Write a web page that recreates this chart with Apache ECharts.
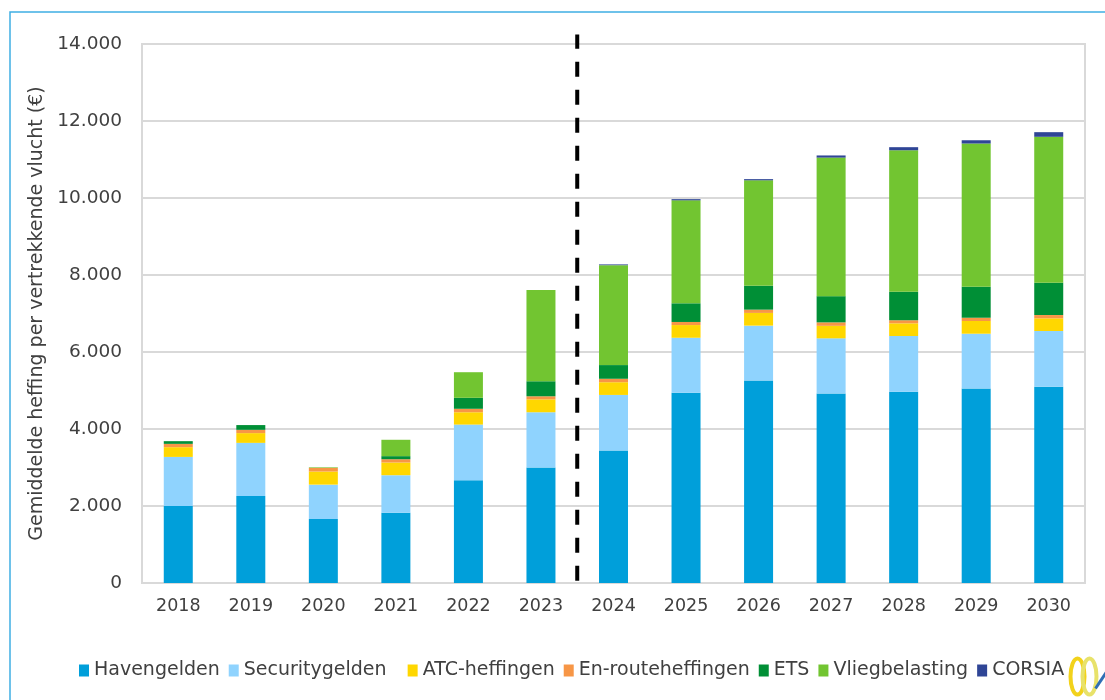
<!DOCTYPE html>
<html>
<head>
<meta charset="utf-8">
<title>Gemiddelde heffing per vertrekkende vlucht</title>
<script src="https://cdn.jsdelivr.net/npm/echarts@6/dist/echarts.min.js"></script>
<style>
  html, body { margin: 0; padding: 0; background: #fff; }
  #chart { width: 1105px; height: 700px; }
</style>
</head>
<body>
<div id="chart"></div>
<script>
const years = ['2018', '2019', '2020', '2021', '2022', '2023', '2024', '2025', '2026', '2027', '2028', '2029', '2030'];

const havengelden     = [2000, 2260, 1660, 1825, 2670, 3000, 3440, 4940, 5260, 4920, 4970, 5050, 5100];
const securitygelden  = [1275, 1380,  895,  975, 1445, 1435, 1445, 1430, 1425, 1435, 1445, 1425, 1445];
const atcHeffingen    = [ 253,  253,  340,  330,  320,  335,  330,  330,  330,  325,  330,  330,  330];
const enRoute         = [  86,   86,   95,   85,   90,   80,   90,   80,   85,   90,   80,   85,   85];
const ets             = [  70,  123,    0,   80,  285,  390,  355,  485,  620,  680,  740,  805,  840];
const vliegbelasting  = [   0,    0,   15,  425,  665, 2370, 2595, 2675, 2740, 3600, 3675, 3720, 3790];
const corsia          = [   0,    0,    0,    0,    0,    0,   20,   30,   30,   55,   80,   85,  120];

// divider between realised years and forecast (x position on 0..13 scale)
const dividerX = 6;

const seriesDefs = [
  { name: 'Havengelden', data: havengelden, color: '#009FDA' },
  { name: 'Securitygelden', data: securitygelden, color: '#8FD3FE' },
  { name: 'ATC-heffingen', data: atcHeffingen, color: '#FFD700' },
  { name: 'En-routeheffingen', data: enRoute, color: '#F79646' },
  { name: 'ETS', data: ets, color: '#008F36' },
  { name: 'Vliegbelasting', data: vliegbelasting, color: '#72C531' },
  { name: 'CORSIA', data: corsia, color: '#2F4596' }
];

const fontFamily = 'DejaVu Sans';
const chart = echarts.init(document.getElementById('chart'));

chart.setOption({
  animation: false,
  textStyle: { fontFamily },
  grid: {
    left: 142, right: 20, top: 44, bottom: 117,
    show: true, borderColor: '#d9d9d9', borderWidth: 2
  },
  legend: {
    bottom: 15,
    left: 74,
    itemWidth: 10,
    itemHeight: 12,
    itemGap: 9,
    icon: 'rect',
    textStyle: { fontSize: 19, color: '#404040', fontFamily },
    // the source has an extra space after "Securitygelden"
    formatter: name => (name === 'Securitygelden' ? name + '  ' : name),
    data: seriesDefs.map(s => s.name)
  },
  xAxis: [
    {
      type: 'category',
      data: years,
      axisTick: { show: false },
      axisLine: { lineStyle: { color: '#d9d9d9', width: 2 } },
      axisLabel: { fontSize: 17.5, color: '#404040', margin: 14 }
    },
    { type: 'value', min: 0, max: 13, show: false }
  ],
  yAxis: [
    {
      type: 'value',
      min: 0,
      max: 14000,
      interval: 2000,
      name: 'Gemiddelde heffing per vertrekkende vlucht (€)',
      nameLocation: 'middle',
      nameGap: 94,
      nameTextStyle: { fontSize: 19, color: '#404040' },
      axisLine: { show: false },
      axisTick: { show: false },
      axisLabel: {
        fontSize: 18.5, color: '#404040', margin: 20,
        formatter: v => v.toLocaleString('de-DE')
      },
      splitLine: { lineStyle: { color: '#d9d9d9', width: 2 } }
    },
    { type: 'value', min: 0, max: 14000, show: false }
  ],
  series: [
    ...seriesDefs.map(s => ({
      name: s.name,
      type: 'bar',
      stack: 'total',
      barWidth: 29,
      data: s.data,
      itemStyle: { color: s.color }
    })),
    {
      type: 'line',
      xAxisIndex: 1,
      yAxisIndex: 1,
      clip: false,
      symbol: 'none',
      silent: true,
      data: [[dividerX, 60], [dividerX, 14250]],
      lineStyle: { color: '#000', width: 4, type: [15, 13] }
    }
  ],
  graphic: [
    {
      type: 'rect',
      shape: { x: 10, y: 12, width: 1110, height: 700 },
      style: { fill: 'none', stroke: '#3FAEE3', lineWidth: 1.5 },
      silent: true
    },
    {
      type: 'group',
      left: 1068, top: 656,
      children: [
        { type: 'ellipse', shape: { cx: 10, cy: 20, rx: 7, ry: 18 }, style: { fill: 'none', stroke: '#F2D21B', lineWidth: 4 } },
        { type: 'ellipse', shape: { cx: 22, cy: 20, rx: 7, ry: 18 }, style: { fill: 'none', stroke: '#E8E26A', lineWidth: 4 } },
        { type: 'line', shape: { x1: 28, y1: 32, x2: 40, y2: 14 }, style: { stroke: '#2F6FB5', lineWidth: 3 } }
      ]
    }
  ]
});

window.addEventListener('resize', () => chart.resize());
</script>
</body>
</html>
